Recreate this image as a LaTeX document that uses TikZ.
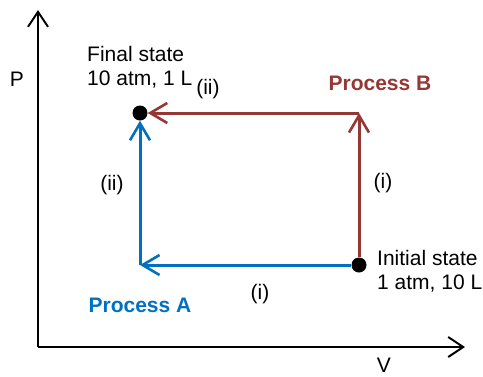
\documentclass[tikz,border=0pt]{standalone}
\usepackage{fontspec}
\setmainfont{Liberation Sans}
\usetikzlibrary{arrows.meta}
\definecolor{procB}{RGB}{149,55,53}
\definecolor{procA}{RGB}{0,112,192}
\begin{document}
\begin{tikzpicture}[x=1pt,y=-1pt,
  axis/.style={line width=2pt,-{Straight Barb[length=15pt,width=20pt,line width=2pt]}},
  flow/.style={line width=3pt,-{Straight Barb[length=17pt,width=20pt,line width=2.6pt]}},
  dot/.style={circle,fill=black,inner sep=0pt,minimum size=15pt},
  lbl/.style={font=\fontsize{21}{24}\selectfont,inner sep=0pt},
  blbl/.style={font=\fontsize{21}{24}\selectfont\bfseries,inner sep=0pt},
  state/.style={lbl,align=left,anchor=west}]
\useasboundingbox (0,0) rectangle (483,376);
% axes
\coordinate (o) at (38,347);
\coordinate (ytip) at (38,10);
\coordinate (xtip) at (465,347);
\draw[axis] (o) -- (ytip);
\draw[axis] (o) -- (xtip);
\node[lbl] (P) at (17,79) {P};
\node[lbl] (V) at (384,365) {V};
% states
\node[dot] (fin) at (140,113) {};
\node[dot] (ini) at (359,265) {};
\coordinate (ca) at (140,265);
\coordinate (cb) at (359,113);
% Process A
\draw[flow,procA] (ini) -- (ca);
\draw[flow,procA] (ca) -- (fin);
% Process B
\draw[flow,procB] (ini) -- (cb);
\draw[flow,procB] (cb) -- (fin);
% labels
\node[state] (finlbl) at (87,67) {Final state\\10 atm, 1 L};
\node[state] (inilbl) at (377,271) {Initial state\\1 atm, 10 L};
\node[lbl] (iiB) at (208,89) {(ii)};
\node[lbl] (iB) at (383,183) {(i)};
\node[lbl] (iiA) at (112,185) {(ii)};
\node[lbl] (iA) at (260,294) {(i)};
\node[blbl,procB] (pB) at (380,83) {Process B};
\node[blbl,procA] (pA) at (140,305) {Process A};
\end{tikzpicture}
\end{document}
